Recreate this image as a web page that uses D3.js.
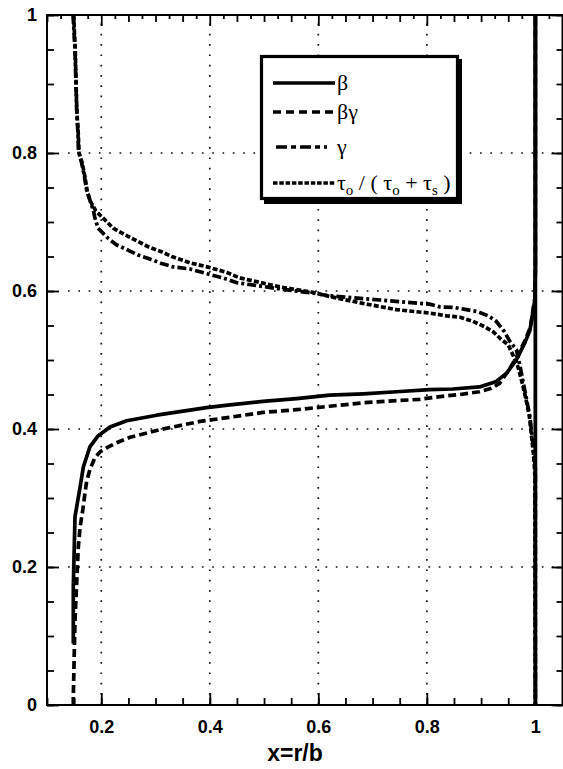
<!DOCTYPE html>
<html><head><meta charset="utf-8">
<script src="https://cdn.jsdelivr.net/npm/d3@7"></script>
<style>body{margin:0;background:#fff}</style>
</head><body>
<svg id="c" width="563" height="769"></svg>
<script>
// ---- data ----
const betaPts = [[0.1485,0.089],[0.1485,0.171],[0.1516,0.273],[0.161,0.316],[0.167,0.345],[0.179,0.374],[0.194,0.390],[0.216,0.403],[0.247,0.412],[0.302,0.420],[0.394,0.431],[0.437,0.435],[0.498,0.440],[0.560,0.444],[0.621,0.449],[0.683,0.451],[0.744,0.454],[0.805,0.457],[0.848,0.458],[0.897,0.461],[0.928,0.469],[0.947,0.481],[0.965,0.500],[0.980,0.524],[0.990,0.543],[0.999,0.587],[1.0,0.635],[1.0,1.0]];
const betaGammaPts = [[0.1485,0.0],[0.1485,0.012],[0.1516,0.123],[0.1547,0.177],[0.1577,0.229],[0.161,0.258],[0.166,0.283],[0.170,0.307],[0.173,0.324],[0.179,0.341],[0.188,0.358],[0.198,0.367],[0.213,0.374],[0.228,0.380],[0.253,0.388],[0.308,0.399],[0.382,0.411],[0.437,0.417],[0.498,0.424],[0.560,0.428],[0.621,0.433],[0.683,0.438],[0.744,0.441],[0.787,0.443],[0.824,0.447],[0.861,0.450],[0.897,0.454],[0.919,0.459],[0.934,0.466],[0.950,0.484],[0.966,0.505],[0.981,0.528],[0.991,0.548],[0.999,0.590],[1.0,0.630],[1.0,1.0]];
const gammaPts = [[0.1480,1.0],[0.1516,0.949],[0.1547,0.862],[0.157,0.829],[0.158,0.804],[0.164,0.785],[0.169,0.766],[0.173,0.746],[0.179,0.732],[0.185,0.718],[0.188,0.707],[0.194,0.691],[0.213,0.676],[0.228,0.667],[0.250,0.659],[0.268,0.652],[0.287,0.647],[0.311,0.640],[0.332,0.635],[0.363,0.632],[0.395,0.625],[0.424,0.619],[0.450,0.612],[0.529,0.603],[0.590,0.597],[0.621,0.593],[0.713,0.587],[0.805,0.581],[0.824,0.577],[0.851,0.576],[0.873,0.573],[0.894,0.570],[0.913,0.564],[0.928,0.556],[0.943,0.541],[0.953,0.527],[0.965,0.515],[0.972,0.490],[0.978,0.466],[0.984,0.442],[0.990,0.418],[0.994,0.389],[0.998,0.360],[1.0,0.343],[1.0,0.0]];
const tauPts = [[0.1490,1.0],[0.1520,0.950],[0.1550,0.860],[0.1575,0.830],[0.159,0.800],[0.165,0.785],[0.170,0.765],[0.174,0.745],[0.180,0.730],[0.190,0.716],[0.207,0.703],[0.222,0.691],[0.238,0.684],[0.262,0.674],[0.287,0.664],[0.311,0.657],[0.330,0.650],[0.363,0.641],[0.395,0.635],[0.431,0.627],[0.455,0.619],[0.529,0.606],[0.590,0.598],[0.621,0.592],[0.682,0.582],[0.744,0.573],[0.805,0.568],[0.836,0.564],[0.861,0.562],[0.885,0.556],[0.907,0.548],[0.922,0.541],[0.937,0.530],[0.950,0.522],[0.960,0.505],[0.968,0.490],[0.976,0.466],[0.983,0.442],[0.989,0.418],[0.993,0.389],[0.997,0.360],[0.999,0.335],[1.0,0.0]];
const edgeX = [1.0];            // outer boundary x = r/b = 1, drawn as a solid vertical
const xMajor = [0.2,0.4,0.6,0.8,1];
const yMajor = [0,0.2,0.4,0.6,0.8,1];
const xGrid = [0.2,0.4,0.6,0.8];
const yGrid = [0.2,0.4,0.6,0.8];
const xTitle = "x=r/b";

// ---- layout ----
const svg = d3.select("#c");
const L=47, R=562.5, T=15, B=705;
const x = d3.scaleLinear().domain([0.1,1.05]).range([L,R]);
const y = d3.scaleLinear().domain([0,1]).range([B,T]);
const fmt = d => d===0 ? "0" : d===1 ? "1" : d3.format(".1f")(d);
const tickFont = "'Liberation Sans', Arial, sans-serif";

// grid
const grid = svg.append("g").attr("stroke","#111").attr("stroke-width",1.7).attr("stroke-dasharray","1.7,8.6");
grid.selectAll(".vg").data(xGrid).join("line").attr("x1",d=>x(d)).attr("x2",d=>x(d)).attr("y1",B).attr("y2",T);
grid.selectAll(".hg").data(yGrid).join("line").attr("class","hg").attr("y1",d=>y(d)).attr("y2",d=>y(d)).attr("x1",L+21).attr("x2",R);

// axes
function styleAxis(g){ g.select(".domain").remove(); g.selectAll("line").attr("stroke","#000").attr("stroke-width",1.8); }
const xMinor = d3.range(0.1,1.0501,0.05).map(v=>+v.toFixed(3));
const xTop = d3.range(0.1,1.0501,0.025).map(v=>+v.toFixed(3));
const yMinor = d3.range(0,1.0001,0.05).map(v=>+v.toFixed(3));
svg.append("g").attr("transform",`translate(0,${B})`).call(d3.axisBottom(x).tickValues(xMinor).tickSize(-7).tickFormat("")).call(styleAxis);
svg.append("g").attr("transform",`translate(0,${B})`).call(d3.axisBottom(x).tickValues(xMajor).tickSize(-12).tickPadding(15).tickFormat(fmt)).call(styleAxis)
  .selectAll("text").attr("font-family",tickFont).attr("font-weight","bold").attr("font-size",18).attr("fill","#000");
svg.append("g").attr("transform",`translate(0,${T})`).call(d3.axisTop(x).tickValues(xTop).tickSize(0).tickFormat("")).call(styleAxis)
  .selectAll(".tick line").attr("y2",d=>{const a=Math.round(d*1000); return a%200===0?11:(a%50===0?7:4);});
svg.append("g").attr("transform",`translate(${L},0)`).call(d3.axisLeft(y).tickValues(yMinor).tickSize(-7).tickFormat("")).call(styleAxis);
svg.append("g").attr("transform",`translate(${L},0)`).call(d3.axisLeft(y).tickValues(yMajor).tickSize(-12).tickPadding(10).tickFormat(fmt)).call(styleAxis)
  .selectAll("text").attr("font-family",tickFont).attr("font-weight","bold").attr("font-size",18).attr("fill","#000");
svg.append("g").attr("transform",`translate(${R},0)`).call(d3.axisRight(y).tickValues(yMinor).tickSize(-6).tickFormat("")).call(styleAxis);
svg.append("g").attr("transform",`translate(${R},0)`).call(d3.axisRight(y).tickValues(yMajor).tickSize(-11).tickFormat("")).call(styleAxis);

// frame
svg.append("rect").attr("x",L).attr("y",T).attr("width",R-L).attr("height",B-T).attr("fill","none").attr("stroke","#000").attr("stroke-width",2);

// series
const line = d3.line().x(d=>x(d[0])).y(d=>y(d[1]));
const series = [
  {pts:betaPts, dash:null},
  {pts:betaGammaPts, dash:"8,4"},
  {pts:gammaPts, dash:"9,3,3,3"},
  {pts:tauPts, dash:"5,2.2"}
];
svg.append("clipPath").attr("id","pc").append("rect").attr("x",L).attr("y",T-2).attr("width",R-L).attr("height",B-T+4);
const pg = svg.append("g").attr("clip-path","url(#pc)");
pg.selectAll("line.edge").data(edgeX).join("line").attr("class","edge")
  .attr("x1",d=>x(d)).attr("x2",d=>x(d)).attr("y1",y(0)).attr("y2",y(1)).attr("stroke","#000").attr("stroke-width",3.8);
pg.selectAll("path").data(series).join("path")
  .attr("d",d=>line(d.pts)).attr("fill","none").attr("stroke","#000").attr("stroke-width",3.7)
  .attr("stroke-dasharray",d=>d.dash).attr("stroke-linejoin","round");

// x title
svg.append("text").attr("x",295).attr("y",761).attr("text-anchor","middle")
  .attr("font-family",tickFont).attr("font-weight","bold").attr("font-size",23).text(xTitle);

// legend
const lg = svg.append("g");
lg.append("rect").attr("x",264).attr("y",59).attr("width",198).attr("height",145).attr("fill","#000");
lg.append("rect").attr("x",261.5).attr("y",56.5).attr("width",196).attr("height",142).attr("fill","#fff").attr("stroke","#000").attr("stroke-width",3.2);
const legendRows = [
  {dash:null, y:83, x1:273, x2:335},
  {dash:"8,5", y:112, x1:273, x2:335},
  {dash:"11,4,5,4", y:147, x1:276, x2:327},
  {dash:"4.5,1.8", y:183, x1:273, x2:335}
];
lg.selectAll("line").data(legendRows).join("line").attr("x1",d=>d.x1).attr("x2",d=>d.x2).attr("y1",d=>d.y).attr("y2",d=>d.y)
  .attr("stroke","#000").attr("stroke-width",3.6).attr("stroke-dasharray",d=>d.dash);
const serif = "'Liberation Serif','Times New Roman',serif";
const lt = (yy)=> lg.append("text").attr("x",337).attr("y",yy).attr("font-family",serif).attr("font-size",22).attr("xml:space","preserve");
lt(90).text("β");
lt(119).text("βγ");
lt(154).text("γ");
const t4 = lt(190);
const parts = [["τ",0],["o",1],[" / ( ",0],["τ",0],["o",1],[" + ",0],["τ",0],["s",1],[" )",0]];
let prevSub=false;
parts.forEach(([s,sub])=>{
  const ts = t4.append("tspan").text(s);
  if(sub){ ts.attr("font-size",15).attr("dy",5); prevSub=true; }
  else if(prevSub){ ts.attr("dy",-5); prevSub=false; }
});
</script>
</body></html>
